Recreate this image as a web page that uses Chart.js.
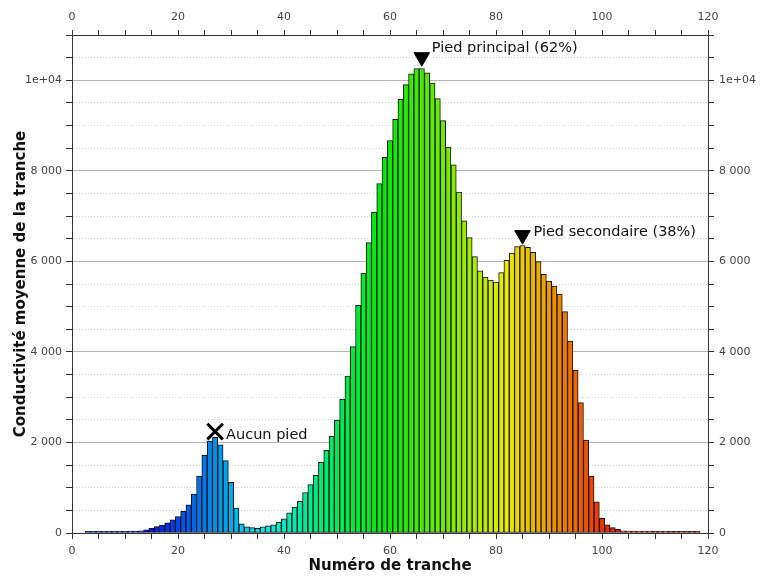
<!DOCTYPE html>
<html>
<head>
<meta charset="utf-8">
<script src="https://cdn.jsdelivr.net/npm/chart.js@4.4.1/dist/chart.umd.min.js"></script>
<style>
    body { margin: 0; background: #ffffff; }
    canvas { display: block; }
</style>
</head>
<body>
<canvas id="myChart" width="760" height="576"></canvas>
<script>
// slice numbers (x) and mean conductivity per slice (y)
var slices = [
    3, 4, 5, 6, 7, 8, 9, 10, 11, 12,
    13, 14, 15, 16, 17, 18, 19, 20, 21, 22,
    23, 24, 25, 26, 27, 28, 29, 30, 31, 32,
    33, 34, 35, 36, 37, 38, 39, 40, 41, 42,
    43, 44, 45, 46, 47, 48, 49, 50, 51, 52,
    53, 54, 55, 56, 57, 58, 59, 60, 61, 62,
    63, 64, 65, 66, 67, 68, 69, 70, 71, 72,
    73, 74, 75, 76, 77, 78, 79, 80, 81, 82,
    83, 84, 85, 86, 87, 88, 89, 90, 91, 92,
    93, 94, 95, 96, 97, 98, 99, 100, 101, 102,
    103, 104, 105, 106, 107, 108, 109, 110, 111, 112,
    113, 114, 115, 116, 117, 118
];
var conductivity = [
    35, 35, 36, 36, 37, 37, 38, 38, 40, 42,
    48, 70, 103, 140, 175, 225, 290, 365, 480, 620,
    860, 1260, 1720, 2030, 2115, 1950, 1600, 1120, 550, 205,
    135, 120, 105, 135, 160, 180, 235, 315, 445, 570,
    700, 895, 1070, 1275, 1560, 1825, 2135, 2495, 2960, 3465,
    4120, 5030, 5740, 6415, 7085, 7720, 8300, 8670, 9140, 9580,
    9905, 10140, 10260, 10260, 10165, 9940, 9595, 9110, 8525, 8130,
    7530, 6895, 6525, 6105, 5790, 5655, 5585, 5540, 5750, 6025,
    6185, 6325, 6350, 6310, 6200, 5995, 5715, 5565, 5455, 5275,
    4890, 4240, 3600, 2880, 2055, 1260, 690, 325, 180, 117,
    82, 50, 42, 40, 38, 38, 37, 37, 36, 36,
    35, 35, 35, 35, 35, 35
];

// markers: "foot" annotations
var markerNames = ['Aucun pied', 'Pied principal (62%)', 'Pied secondaire (38%)'];
var markerSlices = [27, 66, 85];
var markerLevels = [2240, 10510, 6580];

var xTicks = [0, 20, 40, 60, 80, 100, 120];
var yTicks = [0, 2000, 4000, 6000, 8000, 10000];

// pixel offsets of each label from its marker
var labelOffsets = [[11, 7], [10, -5], [11, 1]];

function sliceColor(s) {
    var h = 240 - (s - 13) * 240 / 92;
    if (h > 240) h = 240;
    if (h < 0) h = 0;
    return 'hsl(' + h + ', 100%, 46%)';
}

function yLabel(v) {
    if (yTicks.indexOf(v) < 0) return '';
    if (v >= 10000) return v.toExponential(0).replace('e+', 'e+0');
    return v >= 1000 ? Math.floor(v / 1000) + ' ' + String(v % 1000).padStart(3, '0') : String(v);
}

function xLabel(v) {
    return xTicks.indexOf(v) >= 0 ? String(v) : '';
}

var labelPlugin = {
    id: 'footLabels',
    afterDatasetsDraw: function (chart) {
        var c = chart.ctx;
        var xs = chart.scales.x, ys = chart.scales.y;
        c.save();
        c.font = '14.5px "DejaVu Sans"';
        c.fillStyle = '#111';
        c.textBaseline = 'alphabetic';
        c.textAlign = 'left';
        markerNames.forEach(function (name, k) {
            var px = xs.getPixelForValue(markerSlices[k]);
            var py = ys.getPixelForValue(markerLevels[k]);
            c.fillText(name, px + labelOffsets[k][0], py + labelOffsets[k][1]);
        });
        c.restore();
    }
};

var tickFont = { family: 'DejaVu Sans', size: 11 };
var titleFont = { family: 'DejaVu Sans', size: 15, weight: 'bold' };

const ctx = document.getElementById('myChart');

var c = new Chart(ctx, {
    type: 'bar',
    data: {
        datasets: [{
            type: 'scatter',
            order: 0,
            data: markerSlices.map(function (s, k) { return { x: s, y: markerLevels[k] }; }),
            pointStyle: ['crossRot', 'triangle', 'triangle'],
            rotation: [0, 180, 180],
            radius: [11, 9, 9],
            borderWidth: [3, 1, 1],
            borderColor: '#000',
            backgroundColor: '#000'
        }, {
            order: 1,
            data: slices.map(function (s, k) { return { x: s, y: conductivity[k] }; }),
            backgroundColor: slices.map(sliceColor),
            borderColor: '#111',
            borderWidth: 1,
            borderSkipped: false,
            categoryPercentage: 1,
            barPercentage: 1
        }]
    },
    options: {
        responsive: false,
        animation: false,
        layout: { padding: 0 },
        plugins: {
            legend: { display: false },
            tooltip: { enabled: false }
        },
        scales: {
            x: {
                type: 'linear',
                position: 'bottom',
                offset: false,
                min: 0,
                max: 120,
                afterFit: function (s) { s.height = 43; },
                ticks: { stepSize: 5, autoSkip: false, maxRotation: 0, padding: 6, color: '#444', font: tickFont, callback: xLabel },
                grid: { offset: false, drawOnChartArea: false, tickLength: 6, tickColor: '#333' },
                border: { color: '#333' },
                title: { display: true, text: 'Numéro de tranche', color: '#111', font: titleFont, padding: { top: 0, bottom: 1 } }
            },
            xTop: {
                type: 'linear',
                position: 'top',
                offset: false,
                min: 0,
                max: 120,
                afterFit: function (s) { s.height = 35; },
                ticks: { stepSize: 5, autoSkip: false, maxRotation: 0, padding: 6, color: '#444', font: tickFont, callback: xLabel },
                grid: { offset: false, drawOnChartArea: false, tickLength: 5, tickColor: '#333' },
                border: { color: '#333' }
            },
            y: {
                type: 'linear',
                position: 'left',
                min: 0,
                max: 11000,
                afterFit: function (s) { s.width = 72; },
                ticks: { stepSize: 500, autoSkip: false, padding: 4, color: '#444', font: tickFont, callback: yLabel },
                grid: {
                    tickLength: 6,
                    tickColor: '#333',
                    color: function (g) {
                        return g.tick && yTicks.indexOf(g.tick.value) >= 0 ? '#b4b4b4' : '#d2d2d2';
                    }
                },
                border: {
                    color: '#333',
                    dash: function (g) {
                        return g.tick && yTicks.indexOf(g.tick.value) < 0 ? [1, 2] : [];
                    }
                },
                title: { display: true, text: 'Conductivité moyenne de la tranche', color: '#111', font: titleFont, padding: { top: 12, bottom: 0 } }
            },
            yRight: {
                type: 'linear',
                position: 'right',
                min: 0,
                max: 11000,
                afterFit: function (s) { s.width = 52; },
                ticks: { stepSize: 500, autoSkip: false, padding: 5, color: '#444', font: tickFont, callback: yLabel },
                grid: { drawOnChartArea: false, tickLength: 6, tickColor: '#333' },
                border: { color: '#333' }
            }
        }
    },
    plugins: [labelPlugin]
})
</script>
</body>
</html>
